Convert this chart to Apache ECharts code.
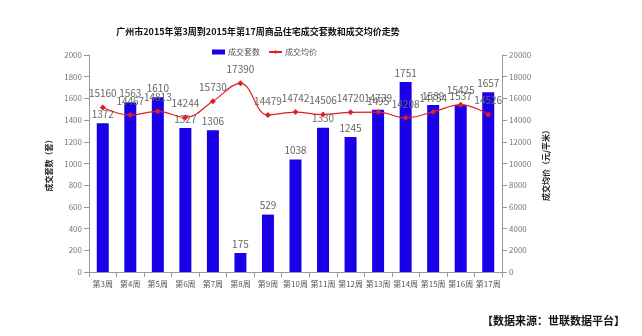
<!DOCTYPE html>
<html><head><meta charset="utf-8">
<script src="https://cdn.jsdelivr.net/npm/echarts@6/dist/echarts.min.js"></script>
<style>html,body{margin:0;padding:0;background:#fff}#c{width:642px;height:336px}</style>
</head><body><div id="c"></div>
<script>
var weeks = ['第3周','第4周','第5周','第6周','第7周','第8周','第9周','第10周','第11周','第12周','第13周','第14周','第15周','第16周','第17周'];
var units = [1372,1563,1610,1327,1306,175,529,1038,1330,1245,1495,1751,1539,1537,1657];
var prices = [15160,14467,14813,14244,15730,17390,14479,14742,14506,14720,14739,14208,14754,15425,14526];
var leftTicks = [0,200,400,600,800,1000,1200,1400,1600,1800,2000];
var rightTicks = [0,2000,4000,6000,8000,10000,12000,14000,16000,18000,20000];

var chart = echarts.init(document.getElementById('c'), null, {renderer:'canvas'});
var ff = '"Noto Sans CJK SC", "DejaVu Sans", sans-serif';
var lblColor = '#666';
chart.setOption({
  animation:false,
  textStyle:{fontFamily:ff},
  title:{text:'广州市2015年第3周到2015年第17周商品住宅成交套数和成交均价走势', left:253, top:22, textAlign:'center',
    textStyle:{fontSize:9, fontWeight:'bold', color:'#111', fontFamily:ff}},
  legend:{top:43, left:207, itemWidth:13, itemHeight:5, itemGap:8, textStyle:{fontSize:8, color:'#555', padding:[0,0,0,-2]},
    data:[{name:'成交套数', icon:'rect'},{name:'成交均价'}]},
  grid:{left:89, right:140, top:55, bottom:64},
  xAxis:{type:'category', data:weeks,
    axisLine:{lineStyle:{color:'#999'}}, axisTick:{show:true, alignWithLabel:false, lineStyle:{color:'#999'}},
    axisLabel:{fontSize:8, color:'#555', interval:0, margin:8}},
  yAxis:[
    {type:'value', min:0, max:2000, interval:200, name:'成交套数（套）', nameLocation:'middle', nameGap:22, nameRotate:90,
      nameTextStyle:{fontSize:8, fontWeight:'bold', color:'#222'},
      axisLine:{show:true, lineStyle:{color:'#999'}}, axisTick:{show:true, lineStyle:{color:'#999'}},
      splitLine:{show:false}, axisLabel:{fontSize:8, color:'#777', margin:7, formatter:function(v){return String(v);}}},
    {type:'value', min:0, max:20000, interval:2000, name:'成交均价（元/平米）', nameLocation:'middle', nameGap:33, nameRotate:90,
      nameTextStyle:{fontSize:8, fontWeight:'bold', color:'#222'},
      axisLine:{show:true, lineStyle:{color:'#999'}}, axisTick:{show:true, lineStyle:{color:'#999'}},
      splitLine:{show:false}, axisLabel:{fontSize:8, color:'#777', margin:7, formatter:function(v){return String(v);}}}
  ],
  series:[
    {name:'成交套数', type:'bar', data:units, barWidth:12, itemStyle:{color:'#1a00e6'},
      label:{show:true, position:'top', fontSize:10, color:lblColor, distance:4}},
    {name:'成交均价', type:'line', yAxisIndex:1, data:prices, smooth:0.4, symbol:'diamond', symbolSize:6,
      lineStyle:{color:'#e02020', width:1.2}, itemStyle:{color:'#e02020'},
      label:{show:true, position:'top', fontSize:10, color:lblColor, distance:6}}
  ],
  graphic:[{type:'text', left:482, top:315, style:{text:'【数据来源：世联数据平台】', font:'bold 11px '+ff, fill:'#111'}}]
});
</script></body></html>
